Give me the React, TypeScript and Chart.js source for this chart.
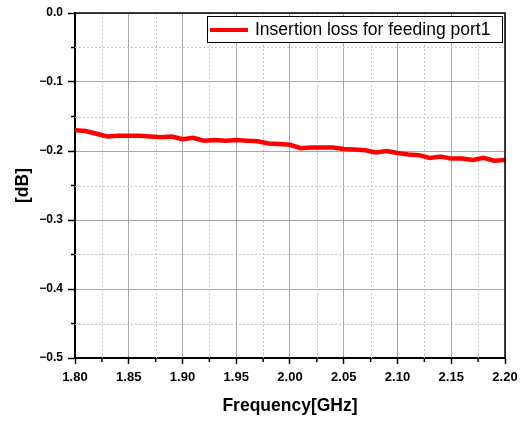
import React, { useEffect, useRef } from "react";
import { Chart, registerables } from "chart.js";

Chart.register(...registerables);

const frequencyGHz = [
  1.8, 1.81, 1.82, 1.83, 1.84, 1.85, 1.86, 1.87, 1.88, 1.89, 1.9, 1.91, 1.92, 1.93,
  1.94, 1.95, 1.96, 1.97, 1.98, 1.99, 2.0, 2.01, 2.02, 2.03, 2.04, 2.05, 2.06, 2.07,
  2.08, 2.09, 2.1, 2.11, 2.12, 2.13, 2.14, 2.15, 2.16, 2.17, 2.18, 2.19, 2.2,
];
const insertionLossDb = [
  -0.170, -0.171, -0.175, -0.179, -0.178, -0.178, -0.178, -0.179, -0.180, -0.179,
  -0.183, -0.181, -0.185, -0.184, -0.185, -0.184, -0.185, -0.186, -0.189, -0.190,
  -0.191, -0.196, -0.195, -0.195, -0.195, -0.197, -0.198, -0.199, -0.202, -0.200,
  -0.203, -0.205, -0.206, -0.210, -0.208, -0.211, -0.211, -0.213, -0.210, -0.214,
  -0.213,
];
const seriesLabel = "Insertion loss for feeding port1";
const xMinorTicks = [1.825, 1.875, 1.925, 1.975, 2.025, 2.075, 2.125, 2.175];
const yMinorTicks = [-0.05, -0.15, -0.25, -0.35, -0.45];
const xTitle = "Frequency[GHz]";
const yTitle = "[dB]";

const FONT = "'Liberation Sans', Arial, Helvetica, sans-serif";

const framePlugin = {
  id: "originFrame",
  beforeDatasetsDraw(chart: any) {
    const { ctx, chartArea } = chart;
    const xs = chart.scales.x;
    const ys = chart.scales.y;
    ctx.save();
    ctx.strokeStyle = "#c8c8c8";
    ctx.lineWidth = 1;
    ctx.setLineDash([2, 2]);
    xMinorTicks.forEach((v) => {
      const px = Math.round(xs.getPixelForValue(v)) + 0.5;
      ctx.beginPath();
      ctx.moveTo(px, chartArea.top);
      ctx.lineTo(px, chartArea.bottom);
      ctx.stroke();
    });
    yMinorTicks.forEach((v) => {
      const py = Math.round(ys.getPixelForValue(v)) + 0.5;
      ctx.beginPath();
      ctx.moveTo(chartArea.left, py);
      ctx.lineTo(chartArea.right, py);
      ctx.stroke();
    });
    ctx.setLineDash([]);
    ctx.strokeStyle = "#000";
    ctx.lineWidth = 1.5;
    xMinorTicks.forEach((v) => {
      const px = xs.getPixelForValue(v);
      ctx.beginPath();
      ctx.moveTo(px, chartArea.bottom);
      ctx.lineTo(px, chartArea.bottom + 4);
      ctx.stroke();
    });
    yMinorTicks.forEach((v) => {
      const py = ys.getPixelForValue(v);
      ctx.beginPath();
      ctx.moveTo(chartArea.left, py);
      ctx.lineTo(chartArea.left - 4, py);
      ctx.stroke();
    });
    ctx.restore();
  },
  afterDatasetsDraw(chart: any) {
    const { ctx, chartArea } = chart;
    ctx.save();
    // frame top/right
    ctx.strokeStyle = "#000";
    ctx.lineWidth = 1.5;
    ctx.beginPath();
    ctx.moveTo(chartArea.left, chartArea.top);
    ctx.lineTo(chartArea.right, chartArea.top);
    ctx.lineTo(chartArea.right, chartArea.bottom);
    ctx.stroke();
    // legend box
    const bx = chartArea.right - 298;
    const by = chartArea.top + 3;
    const bw = 295;
    const bh = 26;
    ctx.fillStyle = "#fff";
    ctx.fillRect(bx, by, bw, bh);
    ctx.lineWidth = 1;
    ctx.strokeStyle = "#000";
    ctx.strokeRect(bx + 0.5, by + 0.5, bw, bh);
    const ds = chart.data.datasets[0];
    ctx.strokeStyle = ds.borderColor;
    ctx.lineWidth = 4;
    ctx.beginPath();
    ctx.moveTo(bx + 3, by + 14);
    ctx.lineTo(bx + 41, by + 14);
    ctx.stroke();
    ctx.fillStyle = "#000";
    ctx.font = `17.5px ${FONT}`;
    ctx.textBaseline = "middle";
    ctx.textAlign = "left";
    ctx.fillText(ds.label, bx + 48, by + 14);
    ctx.restore();
  },
};

export default function App() {
  const ref = useRef<HTMLCanvasElement | null>(null);
  useEffect(() => {
    if (!ref.current) return;
    const chart = new Chart(ref.current, {
      type: "line",
      data: {
        datasets: [
          {
            label: seriesLabel,
            data: frequencyGHz.map((f, i) => ({ x: f, y: insertionLossDb[i] })),
            borderColor: "#ff0000",
            backgroundColor: "#ff0000",
            borderWidth: 4.5,
            pointRadius: 0,
            tension: 0,
            fill: false,
          },
        ],
      },
      options: {
        animation: false,
        responsive: false,
        layout: { padding: { top: 13, right: 25, left: 0, bottom: 0 } },
        plugins: { legend: { display: false }, tooltip: { enabled: false } },
        scales: {
          x: {
            type: "linear",
            min: 1.8,
            max: 2.2,
            afterFit: (s: any) => {
              s.height = 63;
            },
            ticks: {
              stepSize: 0.05,
              callback: (v: any) => Number(v).toFixed(2),
              color: "#000",
              font: { family: FONT, size: 13, weight: "bold" },
              padding: 6,
              maxRotation: 0,
              autoSkip: false,
            },
            grid: {
              color: "#a8a8a8",
              lineWidth: 1,
              tickColor: "#000",
              tickLength: 6,
              tickWidth: 1.5,
            },
            border: { display: true, color: "#000", width: 2 },
            title: {
              display: true,
              text: xTitle,
              color: "#000",
              font: { family: FONT, size: 17.5, weight: "bold" },
              padding: { top: 0, bottom: 4 },
            },
          },
          y: {
            type: "linear",
            min: -0.5,
            max: 0,
            afterFit: (s: any) => {
              s.width = 75;
            },
            ticks: {
              stepSize: 0.1,
              callback: (v: any) => {
                const n = Number(v);
                if (Math.abs(n) < 1e-9) return "0.0";
                return "\u2212" + Math.abs(n).toFixed(1);
              },
              color: "#000",
              font: { family: FONT, size: 12, weight: "bold" },
              padding: 5,
            },
            grid: {
              color: "#a8a8a8",
              lineWidth: 1,
              tickColor: "#000",
              tickLength: 7,
              tickWidth: 1.5,
            },
            border: { display: true, color: "#000", width: 2 },
            title: {
              display: true,
              text: yTitle,
              color: "#000",
              font: { family: FONT, size: 17.5, weight: "bold" },
              padding: { top: 13, bottom: 0 },
            },
          },
        },
      } as any,
      plugins: [framePlugin],
    });
    return () => chart.destroy();
  }, []);
  return (
    <div style={{ position: "absolute", left: 0, top: 0, width: 530, height: 421, background: "#fff" }}>
      <canvas ref={ref} width={530} height={421} style={{ display: "block" }} />
    </div>
  );
}
